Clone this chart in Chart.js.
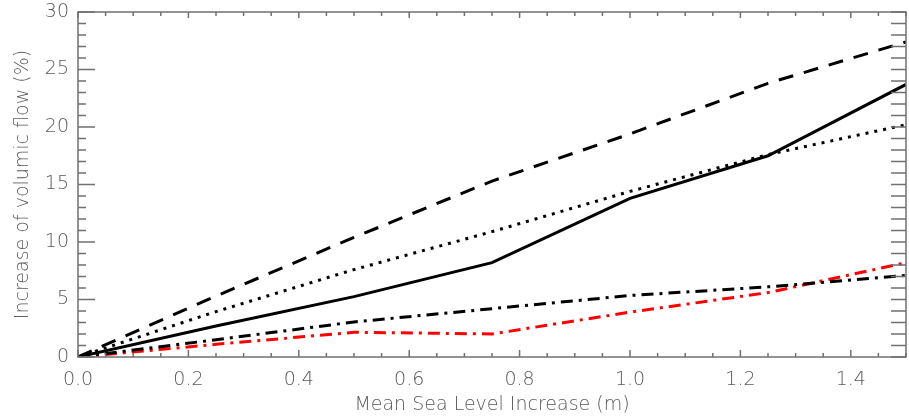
<!DOCTYPE html>
<html>
<head>
<meta charset="utf-8">
<script src="https://cdn.jsdelivr.net/npm/chart.js@4"></script>
<style>
body { margin: 0; background: #fff; }
#wrap { width: 909px; height: 418px; }
</style>
</head>
<body>
<div id="wrap"><canvas id="chart1"></canvas></div>
<script>
// sea level increase (m)
let seaLevel = [0, 0.25, 0.5, 0.75, 1.0, 1.25, 1.5];
// increase of flow (%) for each run
let solidRun = [0, 2.7, 5.25, 8.2, 13.8, 17.5, 23.7];
let dashedRun = [0, 5.3, 10.4, 15.3, 19.4, 23.8, 27.4];
let dottedRun = [0, 3.95, 7.6, 10.9, 14.4, 17.6, 20.2];
let dashDotRun = [0, 1.5, 3.05, 4.2, 5.35, 6.1, 7.1];
let redDashDotRun = [0, 1.1, 2.15, 2.0, 3.9, 5.6, 8.2];

let xLabels = ['0.0', '0.2', '0.4', '0.6', '0.8', '1.0', '1.2', '1.4'];
let yLabels = ['0', '5', '10', '15', '20', '25', '30'];

let textColor = '#5a5a5a';
let axisColor = '#707070';
let font = { family: 'DejaVu Sans', size: 19, weight: 200 };

function toPoints(values) {
    let pts = [];
    values.forEach(function(v, i) {
        pts.push({ x: seaLevel[i], y: v });
    });
    return pts;
}

function makeSet(values, color, dash) {
    return {
        data: toPoints(values),
        borderColor: color,
        borderWidth: 3,
        borderDash: dash,
        borderCapStyle: 'butt',
        pointRadius: 0,
        tension: 0,
        fill: false
    };
}

function isMajor(v, step) {
    let r = v / step;
    return Math.abs(r - Math.round(r)) < 1e-6;
}

// IDL style box: inward ticks on all four sides
let boxTicks = {
    id: 'boxTicks',
    afterDraw: function(chart) {
        let ctx = chart.ctx;
        let a = chart.chartArea;
        let xs = chart.scales.x;
        let ys = chart.scales.y;
        ctx.save();
        ctx.strokeStyle = axisColor;
        ctx.lineWidth = 1.5;
        ctx.strokeRect(a.left, a.top, a.right - a.left, a.bottom - a.top);
        ctx.beginPath();
        xs.ticks.forEach(function(t) {
            let px = xs.getPixelForValue(t.value);
            let major = isMajor(t.value, 0.2);
            ctx.moveTo(px, a.bottom);
            ctx.lineTo(px, a.bottom - (major ? 7 : 4));
            ctx.moveTo(px, a.top);
            ctx.lineTo(px, a.top + (major ? 6 : 4));
        });
        ys.ticks.forEach(function(t) {
            let py = ys.getPixelForValue(t.value);
            let major = isMajor(t.value, 5);
            ctx.moveTo(a.left, py);
            ctx.lineTo(a.left + (major ? 17 : 8), py);
            ctx.moveTo(a.right, py);
            ctx.lineTo(a.right - 15, py);
        });
        ctx.stroke();
        ctx.restore();
    }
};

new Chart(document.getElementById('chart1'), {
    type: 'line',
    data: {
        datasets: [
            makeSet(dashedRun, '#000', [15, 11]),
            makeSet(dottedRun, '#000', [3, 6]),
            makeSet(solidRun, '#000', []),
            makeSet(dashDotRun, '#000', [12, 6, 3, 6]),
            makeSet(redDashDotRun, '#ff0000', [12, 6, 3, 6])
        ]
    },
    plugins: [boxTicks],
    options: {
        responsive: true,
        maintainAspectRatio: false,
        animation: false,
        layout: { padding: { top: 12, right: 3, left: 0, bottom: 0 } },
        plugins: {
            legend: { display: false },
            tooltip: { enabled: false }
        },
        scales: {
            x: {
                type: 'linear',
                min: 0,
                max: 1.5,
                afterFit: function(s) {
                    s.height = 61;
                    s.paddingLeft = 0;
                    s.paddingRight = 0;
                },
                grid: { display: false, drawTicks: false },
                border: { display: false },
                ticks: {
                    stepSize: 0.05,
                    autoSkip: false,
                    maxRotation: 0,
                    padding: 12,
                    color: textColor,
                    font: font,
                    callback: function(v) {
                        if (!isMajor(v, 0.2)) return '';
                        return xLabels[Math.round(v / 0.2)];
                    }
                },
                title: {
                    display: true,
                    text: 'Mean Sea Level Increase (m)',
                    color: textColor,
                    font: font,
                    padding: { top: 0, bottom: 2 }
                }
            },
            y: {
                min: 0,
                max: 30,
                afterFit: function(s) {
                    s.width = 78;
                    s.paddingTop = 0;
                    s.paddingBottom = 0;
                },
                grid: { display: false, drawTicks: false },
                border: { display: false },
                ticks: {
                    stepSize: 1,
                    autoSkip: false,
                    padding: 9,
                    color: textColor,
                    font: font,
                    callback: function(v) {
                        if (!isMajor(v, 5)) return '';
                        return yLabels[Math.round(v / 5)];
                    }
                },
                title: {
                    display: true,
                    text: 'Increase of volumic flow (%)',
                    color: textColor,
                    font: font,
                    padding: { top: 12, bottom: 0 }
                }
            }
        }
    }
});
</script>
</body>
</html>
